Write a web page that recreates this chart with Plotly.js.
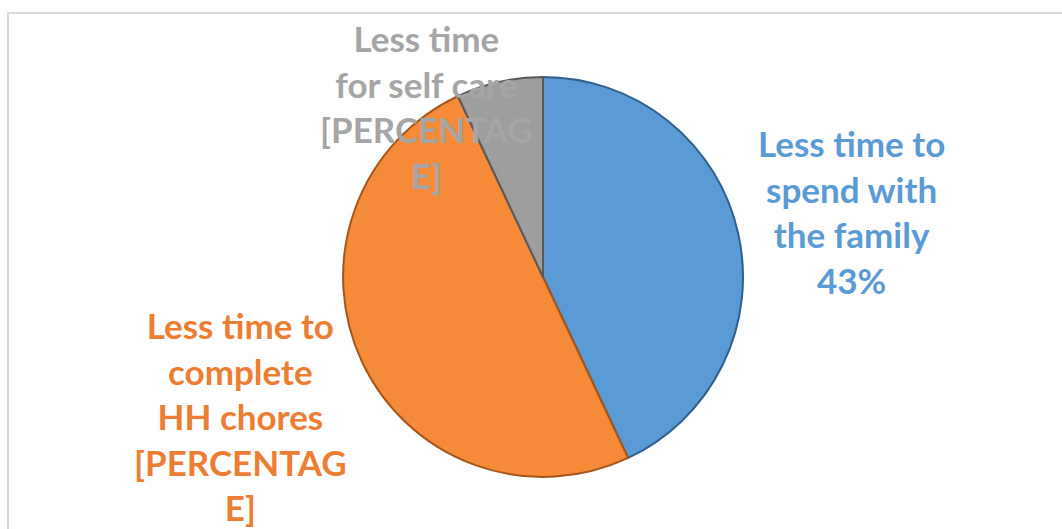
<!DOCTYPE html>
<html>
<head>
<meta charset="utf-8">
<script src="https://cdn.plot.ly/plotly-3.0.1.min.js"></script>
<style>
html,body{margin:0;padding:0;background:#fff;}
#chart{width:1062px;height:529px;}
</style>
</head>
<body>
<div id="chart"></div>
<script>
// Data
const categories = ["Less time to spend with the family", "Less time to complete HH chores", "Less time for self care"];
const values = [43, 50, 7];
const valueLabels = ["43%", "[PERCENTAG<br>E]", "[PERCENTAG<br>E]"];
const labelLines = [
  ["Less time to", "spend with", "the family"],
  ["Less time to", "complete", "HH chores"],
  ["Less time", "for self care"]
];
const colors = ["#5B9BD5", "#F58A38", "#9E9E9E"];
const edgeColors = ["#2F5F8C", "#A5541A", "#5A5A5A"];
const textColors = ["#5B9BD5", "#ED7D31", "#A5A5A5"];

const W = 1062, H = 529;
const cx = 543, cy = 277, r = 200;

const labelPos = [
  {x: 851, y: 211},
  {x: 240, y: 416},
  {x: 426, y: 107}
];

const annotations = categories.map((c, i) => ({
  xref: 'paper', yref: 'paper',
  x: labelPos[i].x / W, y: 1 - labelPos[i].y / H,
  xanchor: 'center', yanchor: 'middle',
  showarrow: false,
  align: 'center',
  text: '<b>' + labelLines[i].join('<br>') + '<br>' + valueLabels[i] + '</b>',
  font: {family: 'Lato, "Open Sans", sans-serif', size: 35, color: textColors[i]}
}));

const trace = {
  type: 'pie',
  labels: categories,
  values: values,
  sort: false,
  direction: 'clockwise',
  rotation: 0,
  textinfo: 'none',
  hoverinfo: 'label+percent',
  marker: {colors: colors, line: {color: edgeColors, width: 2}},
  domain: {x: [(cx - r) / W, (cx + r) / W], y: [(H - cy - r) / H, (H - cy + r) / H]},
  showlegend: false
};

const layout = {
  width: W, height: H,
  margin: {l: 0, r: 0, t: 0, b: 0},
  paper_bgcolor: '#ffffff',
  plot_bgcolor: '#ffffff',
  showlegend: false,
  annotations: annotations,
  shapes: [{
    type: 'rect', xref: 'paper', yref: 'paper',
    x0: 8 / W, x1: 1.02, y0: -0.02, y1: 1 - 13 / H,
    line: {color: '#D9D9D9', width: 2}, layer: 'below'
  }]
};

Plotly.newPlot('chart', [trace], layout, {displayModeBar: false, staticPlot: true});
</script>
</body>
</html>
